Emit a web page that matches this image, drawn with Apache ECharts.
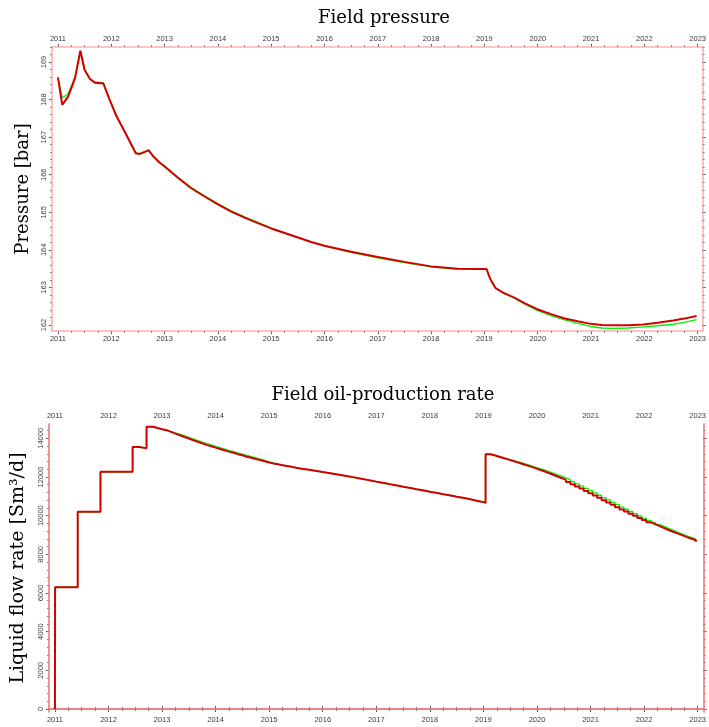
<!DOCTYPE html>
<html><head><meta charset="utf-8">
<script src="https://cdn.jsdelivr.net/npm/echarts@6/dist/echarts.min.js"></script>
<style>html,body{margin:0;padding:0;background:#fff}#c{width:709px;height:727px}</style>
</head><body><div id="c"></div>
<script>
// ---------- tick labels ----------
const yearTicks = [2011,2012,2013,2014,2015,2016,2017,2018,2019,2020,2021,2022,2023];
const pressureTicks = [162,163,164,165,166,167,168,169];
const rateTicks = [0,2000,4000,6000,8000,10000,12000,14000];

// ---------- Field pressure (decimal years) ----------
const pYears = [2011.00,2011.08,2011.19,2011.32,2011.42,2011.50,2011.60,2011.69,2011.85,2011.97,
  2012.10,2012.25,2012.46,2012.53,2012.70,2012.80,2012.90,2013.00,2013.25,2013.50,2013.75,
  2014.00,2014.25,2014.50,2014.75,2015.00,2015.25,2015.50,2015.75,2016.00,2016.50,2017.00,
  2017.50,2018.00,2018.50,2019.04,2019.08,2019.12,2019.21,2019.35,2019.56,2019.75,2019.99,
  2020.25,2020.49,2020.75,2020.99,2021.20,2021.42,2021.70,2021.98,2022.25,2022.54,2022.75,2022.98];
const pRed = [168.59,167.86,168.08,168.57,169.30,168.79,168.55,168.45,168.43,167.99,
  167.55,167.15,166.57,166.55,166.65,166.47,166.33,166.22,165.92,165.64,165.42,
  165.21,165.02,164.86,164.71,164.57,164.45,164.33,164.21,164.11,163.95,163.81,
  163.68,163.56,163.50,163.49,163.33,163.20,162.98,162.86,162.73,162.58,162.42,
  162.29,162.18,162.10,162.03,162.00,161.99,161.99,162.01,162.06,162.12,162.17,162.24];
const pGreen = [168.59,168.05,168.15,168.60,169.30,168.80,168.56,168.47,168.45,168.00,
  167.56,167.16,166.58,166.56,166.66,166.48,166.34,166.23,165.93,165.66,165.44,
  165.23,165.04,164.88,164.73,164.58,164.46,164.33,164.21,164.10,163.93,163.79,
  163.66,163.55,163.49,163.49,163.33,163.20,162.98,162.85,162.72,162.56,162.39,
  162.25,162.14,162.04,161.96,161.92,161.91,161.92,161.95,161.98,162.02,162.07,162.14];

// ---------- Field oil-production rate ----------
// irregular early steps
const rateEarlyYears = [2011.000,2011.003,2011.425,2011.850,2012.450,2012.580,2012.710];
const rateEarlyValues = [0,6300,10200,12270,13550,13480,14600];
// monthly steps, Nov 2012 .. Jan 2019
const rateAStart = 2012 + 10/12;
const rateARed = [14530,14470,
  14420,14330,14240,14160,14070,13990,13900,13820,13740,13660,13590,13520,
  13450,13380,13310,13250,13180,13120,13050,12990,12930,12870,12810,12750,
  12700,12655,12610,12570,12525,12480,12440,12405,12370,12330,12295,12255,
  12220,12180,12140,12100,12060,12020,11980,11935,11890,11850,11805,11760,
  11720,11675,11630,11590,11545,11500,11460,11415,11370,11330,11285,11240,
  11200,11155,11110,11070,11025,10980,10940,10895,10850,10800,10750,10700,
  10660];
const rateAGreen = [14530,14470,
  14420,14345,14280,14220,14135,14055,13965,13885,13805,13725,13655,13585,
  13515,13445,13375,13315,13245,13185,13115,13055,12990,12925,12855,12785,
  12710,12655,12610,12570,12525,12480,12440,12405,12370,12330,12295,12255,
  12220,12180,12140,12100,12060,12020,11980,11935,11890,11850,11805,11760,
  11720,11675,11630,11590,11545,11500,11460,11415,11370,11330,11285,11240,
  11200,11155,11110,11070,11025,10980,10940,10895,10850,10800,10750,10700,
  10660];
// monthly steps after the jump, from mid Jan 2019
const rateBStart = 2019.04;
const rateBRed = [13180,13120,13050,12980,12910,12840,12770,12700,12620,12550,12470,12390,
  12310,12220,12130,12040,11950,11850,11740,11630,11510,11400,11280,11160,
  11040,10920,10800,10680,10560,10440,10320,10210,10100,9990,9880,9770,
  9660,9560,9460,9360,9260,9170,9080,8990,8900,8820,8740,8660];
const rateBGreen = [13190,13135,13068,13000,12932,12865,12805,12740,12668,12602,12525,12450,
  12380,12295,12210,12125,12040,11950,11860,11755,11640,11535,11415,11295,
  11175,11055,10935,10815,10690,10570,10445,10330,10215,10105,9990,9875,
  9755,9650,9545,9443,9340,9248,9150,9058,8965,8882,8800,8716];
const rateEndYear = 2022.98;

// ---------- build series data ----------
function zip(xs, ys){ return xs.map((x,i)=>[x, ys[i]]); }
function rateSeries(aVals, bVals){
  const d = zip(rateEarlyYears, rateEarlyValues);
  aVals.forEach((v,i)=>d.push([rateAStart + i/12, v]));
  bVals.forEach((v,i)=>d.push([rateBStart + i/12, v]));
  d.push([rateEndYear, bVals[bVals.length-1]]);
  return d;
}
const quarterTicks = [];
for (let y = 2010.75; y <= 2023.25; y += 0.25) quarterTicks.push(+y.toFixed(2));
const pMinor = []; for (let v = 161.8; v <= 169.41; v += 0.2) pMinor.push(+v.toFixed(2));
const rMinor = []; for (let v = 0; v <= 14800; v += 400) rMinor.push(v);

const GREEN = '#00f000', RED = '#d40000';
const labelFont = {fontFamily:'Liberation Sans, Arial, sans-serif', fontSize:7.5, color:'#3a3a3a'};
const serif = 'DejaVu Serif';

function xAxes(grid, min, max, lineColor){
  const base = {type:'value', gridIndex:grid, min:min, max:max, splitLine:{show:false}};
  return [
    Object.assign({}, base, {position:'bottom',
      axisLine:{show:true, lineStyle:{color:lineColor, width:1.6}},
      axisTick:{show:true, length:3, customValues:yearTicks, lineStyle:{color:'#444', width:1}},
      axisLabel:Object.assign({customValues:yearTicks, margin:4, formatter:v=>String(v)}, labelFont)}),
    Object.assign({}, base, {position:'top',
      axisLine:{show:true, lineStyle:{color:lineColor, width:1.6}},
      axisTick:{show:true, length:3, customValues:yearTicks, lineStyle:{color:'#444', width:1}},
      axisLabel:Object.assign({customValues:yearTicks, margin:4, formatter:v=>String(v)}, labelFont)}),
    Object.assign({}, base, {position:'bottom', axisLine:{show:false},
      axisTick:{show:true, length:2, customValues:quarterTicks, lineStyle:{color:'#888', width:1}},
      axisLabel:{show:false}}),
    Object.assign({}, base, {position:'top', axisLine:{show:false},
      axisTick:{show:true, length:2, customValues:quarterTicks, lineStyle:{color:'#888', width:1}},
      axisLabel:{show:false}})
  ];
}
function yAxes(grid, min, max, ticks, minor, lineColor, name, nameSize, gap){
  const base = {type:'value', gridIndex:grid, min:min, max:max, splitLine:{show:false}};
  return [
    Object.assign({}, base, {position:'left', name:name, nameLocation:'middle', nameGap:gap,
      nameTextStyle:{fontFamily:serif, fontSize:nameSize, color:'#000'},
      axisLine:{show:true, lineStyle:{color:lineColor, width:1.6}},
      axisTick:{show:true, length:3, customValues:ticks, lineStyle:{color:'#444', width:1}},
      axisLabel:Object.assign({customValues:ticks, rotate:90, margin:4, formatter:v=>String(v)}, labelFont)}),
    Object.assign({}, base, {position:'right',
      axisLine:{show:true, lineStyle:{color:lineColor, width:1.6}},
      axisTick:{show:true, length:3, customValues:ticks, lineStyle:{color:'#444', width:1}},
      axisLabel:{show:false}}),
    Object.assign({}, base, {position:'left', axisLine:{show:false},
      axisTick:{show:true, length:2, customValues:minor, lineStyle:{color:'#888', width:1}},
      axisLabel:{show:false}}),
    Object.assign({}, base, {position:'right', axisLine:{show:false},
      axisTick:{show:true, length:2, customValues:minor, lineStyle:{color:'#888', width:1}},
      axisLabel:{show:false}})
  ];
}

const chart = echarts.init(document.getElementById('c'), null, {renderer:'canvas'});
chart.setOption({
  animation:false,
  backgroundColor:'#fff',
  title:[
    {text:'Field pressure', left:379, top:4, textAlign:'center',
     textStyle:{fontFamily:serif, fontSize:18, fontWeight:'normal', color:'#000'}},
    {text:'Field oil-production rate', left:378, top:381, textAlign:'center',
     textStyle:{fontFamily:serif, fontSize:18, fontWeight:'normal', color:'#000'}}
  ],
  grid:[
    {left:52, top:47, width:654, height:284},
    {left:49, top:424, width:659, height:288}
  ],
  xAxis: xAxes(0, 2010.888, 2023.093, '#ffb0b0').concat(xAxes(1, 2010.889, 2023.11, '#f27a7a')),
  yAxis: yAxes(0, 161.84, 169.40, pressureTicks, pMinor, '#ffb0b0', 'Pressure [bar]', 18, 20)
    .concat(yAxes(1, -155, 14740, rateTicks, rMinor, '#f27a7a', 'Liquid flow rate [Sm³/d]', 19, 21)),
  series:[
    {type:'line', xAxisIndex:0, yAxisIndex:0, data:zip(pYears,pGreen), showSymbol:false,
     lineStyle:{color:GREEN, width:1.3}, clip:true},
    {type:'line', xAxisIndex:0, yAxisIndex:0, data:zip(pYears,pRed), showSymbol:false,
     lineStyle:{color:RED, width:2}, clip:true},
    {type:'line', xAxisIndex:4, yAxisIndex:4, data:rateSeries(rateAGreen, rateBGreen), step:'end',
     showSymbol:false, lineStyle:{color:GREEN, width:1.3}, clip:true},
    {type:'line', xAxisIndex:4, yAxisIndex:4, data:rateSeries(rateARed, rateBRed), step:'end',
     showSymbol:false, lineStyle:{color:RED, width:2}, clip:true}
  ]
});
</script></body></html>
